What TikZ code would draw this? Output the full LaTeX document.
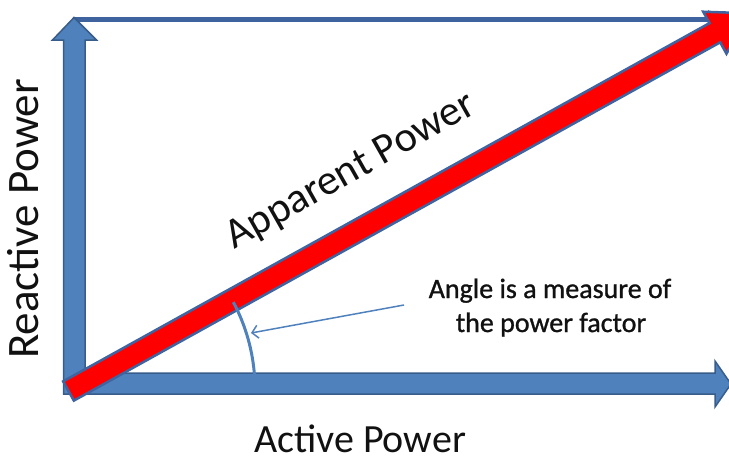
\documentclass[tikz,border=0pt]{standalone}
\usepackage{fontspec}
\setmainfont{Carlito}
\usetikzlibrary{arrows.meta}
\definecolor{blockfill}{HTML}{4F81BD}
\definecolor{blockline}{HTML}{385D8A}
\definecolor{redfill}{HTML}{FF0000}
\definecolor{redline}{HTML}{3F64A0}
\definecolor{topline}{HTML}{3E639E}
\definecolor{txt}{HTML}{111111}
\begin{document}
\begin{tikzpicture}[x=1pt,y=-1pt,
  block/.style={fill=blockfill, draw=blockline, line width=1.5pt, line join=miter},
  redarrow/.style={fill=redfill, draw=redline, line width=2.5pt, line join=miter},
  thinarrow/.style={draw=topline, line width=5pt, -{Triangle[length=14pt,width=18pt]}},
  arcline/.style={draw=blockfill, line width=3pt},
  pointer/.style={draw=blockfill, line width=1.5pt, -{Straight Barb[length=6pt,width=13pt]}},
  lbl/.style={inner sep=0pt, text=txt},
  note/.style={lbl, font=\fontsize{28}{34}\selectfont\addfontfeature{FakeBold=1}}]
\useasboundingbox (0,0) rectangle (729,461);
\begin{scope}
\clip (0,0) rectangle (729,461);
% top thin arrow
\coordinate (vtip) at (74,19.5);
\coordinate (htip) at (722,19.5);
\draw[thinarrow] (vtip) -- (htip);
% L-shaped block arrows
\draw[block] (63.5,394) -- (63.5,40) -- (52.5,40) -- (74,17.5) -- (96.5,40) -- (85,40)
  -- (85,373) -- (715,373) -- (715,361) -- (731,384) -- (715,407) -- (715,394) -- cycle;
% red apparent power arrow
\begin{scope}[shift={(68.5,391)}, rotate=29]
\draw[redarrow] (0,-11) -- (739,-11) -- (739,-24) -- (779,0) -- (739,24) -- (739,11) -- (0,11) -- cycle;
\end{scope}
% angle arc
\coordinate (org) at (70,389);
\draw[arcline] (org) ++(-3.5:185) arc[start angle=-3.5, end angle=-28, radius=185];
\end{scope}
% labels
\node[lbl, font=\fontsize{40}{48}\selectfont, anchor=base] (act) at (360,452) {Active Power};
\node[lbl, font=\fontsize{45}{54}\selectfont, rotate=90, anchor=base] (rea) at (38,219) {Reactive Power};
\node[lbl, font=\fontsize{42.5}{50}\selectfont, rotate=29.5, anchor=base west] (app) at (234,250) {Apparent Power};
\node[note, anchor=base] (ang1) at (550,298) {Angle is a measure of};
\node[note, anchor=base] (ang2) at (551,332) {the power factor};
% pointer
\coordinate (pstart) at (404,305);
\coordinate (pend) at (251,333);
\draw[pointer] (pstart) -- (pend);
\end{tikzpicture}
\end{document}
